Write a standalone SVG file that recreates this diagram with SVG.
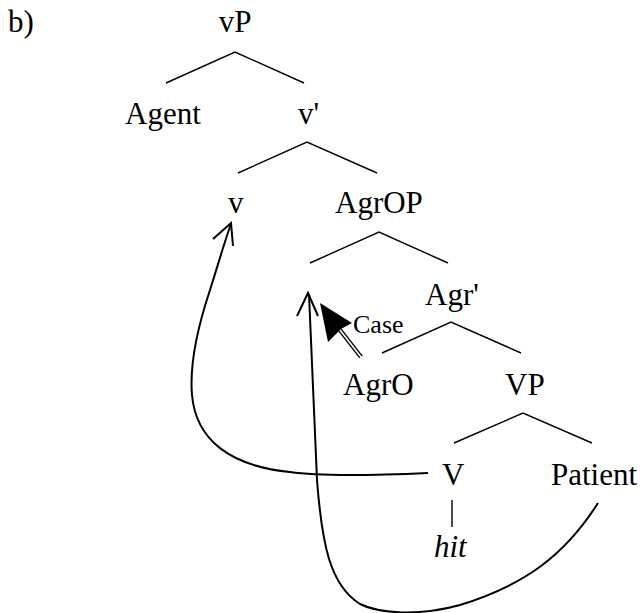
<svg xmlns="http://www.w3.org/2000/svg" width="642" height="613" viewBox="0 0 642 613">
<style>
text{font-family:"Liberation Serif","Times New Roman",serif;font-size:31px;fill:#000}
.it{font-style:italic}
.sm{font-size:26px}
.br{stroke:#000;stroke-width:1.4;fill:none}
.mv{stroke:#000;stroke-width:2;fill:none}
</style>
<rect width="642" height="613" fill="#fff"/>
<text x="8" y="32">b)</text>
<g id="vP"><text x="235" y="32" text-anchor="middle">vP</text></g>
<g id="Agent"><text x="125" y="124">Agent</text></g>
<g id="vbar"><text x="298" y="124">v'</text></g>
<g id="v"><text x="228" y="213">v</text></g>
<g id="AgrOP"><text x="335" y="213">AgrOP</text></g>
<g id="Agrbar"><text x="425" y="305">Agr'</text></g>
<g id="AgrO"><text x="343" y="395">AgrO</text></g>
<g id="VP"><text x="505" y="395">VP</text></g>
<g id="V"><text x="442" y="485">V</text></g>
<g id="Patient"><text x="551" y="485">Patient</text></g>
<g id="hit"><text class="it" x="434" y="557">hit</text></g>
<g id="connectors">
<path class="br" d="M166,83 L235,52 L304,83"/>
<path class="br" d="M238,173 L307,142 L377,173"/>
<path class="br" d="M310,263 L379,232 L448,263"/>
<path class="br" d="M382,353 L451,322 L521,353"/>
<path class="br" d="M454,443 L523,413 L592,443"/>
<path class="br" d="M452,500 L452,527"/>
<path class="mv" d="M428,473 C360,476 310,475 290,472 C230,466 196,440 192,395 C189,360 200,320 210,290 C218,265 225,240 231,224"/>
<path class="mv" d="M213,239 L231,223 L233,246"/>
<path class="mv" d="M598,503 C565,555 525,585 460,605 C420,616 380,614 360,604 C330,585 322,545 317,480 L309,294"/>
<path class="mv" d="M297,316 L308,293 L318,316"/>
<polygon points="320,303 352,323 341,329 328,342" fill="#000"/>
<path class="br" d="M341.2,329.1 L362.2,356.1 M338.8,330.9 L359.8,357.9"/>
</g>
<text class="sm" x="353" y="333">Case</text>
</svg>
